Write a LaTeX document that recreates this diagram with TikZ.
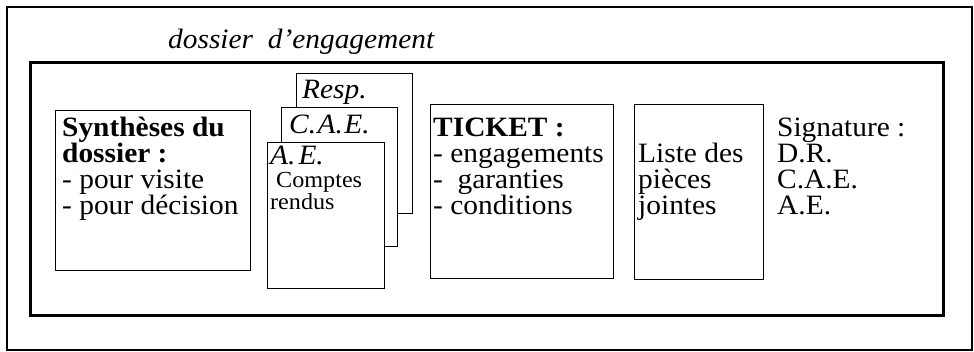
\documentclass[tikz,border=0pt]{standalone}
\usepackage{fontspec}
\setmainfont[FakeStretch=1.05]{Liberation Serif}
\begin{document}
\begin{tikzpicture}[x=1pt,y=-1pt,
  thinbox/.style={draw, line width=0.9pt, fill=white, inner sep=0pt, anchor=north west},
  txt/.style={anchor=base west, align=left, inner sep=0pt, font=\fontsize{28}{26}\selectfont},
  ital/.style={txt, font=\fontsize{28}{26}\selectfont\itshape},
  small/.style={anchor=base west, align=left, inner sep=0pt, font=\fontsize{23}{20}\selectfont}]
\useasboundingbox (0,0) rectangle (974,351);
% outer frame
\node (outer) [draw, line width=2pt, inner sep=0pt, anchor=north west,
  minimum width=965pt, minimum height=343pt] at (6,6) {};
\node (title) [ital] at (168,48) {dossier\ \ d'engagement};
\node (inner) [draw, line width=3pt, inner sep=0pt, anchor=north west,
  minimum width=913pt, minimum height=253pt] at (29,61) {};
% synthèses (anchor = baseline of last line)
\node (synth) [thinbox, minimum width=195pt, minimum height=160pt] at (55,110) {};
\node (synthT) [txt] at (62,214) {\textbf{Synthèses du}\\\textbf{dossier :}\\- pour visite\\- pour décision};
% stacked pages
\node (resp) [thinbox, minimum width=116pt, minimum height=140pt] at (296,73) {};
\node (respT) [ital] at (302,98) {Resp.};
\node (cae) [thinbox, minimum width=116pt, minimum height=139pt] at (281,107) {};
\node (caeT) [ital] at (289,133) {C.\kern1.5pt A.\kern1.5pt E.};
\node (ae) [thinbox, minimum width=117pt, minimum height=146pt] at (267,142) {};
\node (aeT) [ital] at (270,164) {A.\kern3pt E.};
\node (cr) [small] at (270,209) {\ Comptes\\rendus};
% ticket
\node (ticket) [thinbox, minimum width=183pt, minimum height=174pt] at (430,104) {};
\node (ticketT) [txt] at (433,214) {\textbf{TICKET :}\\- engagements\\-\ \ garanties\\- conditions};
% liste
\node (liste) [thinbox, minimum width=129pt, minimum height=175pt] at (634,104) {};
\node (listeT) [txt] at (638,214) {Liste des\\pièces\\jointes};
% signature
\node (sig) [txt] at (777,214) {Signature :\\D.R.\\C.A.E.\\A.E.};
\end{tikzpicture}
\end{document}
